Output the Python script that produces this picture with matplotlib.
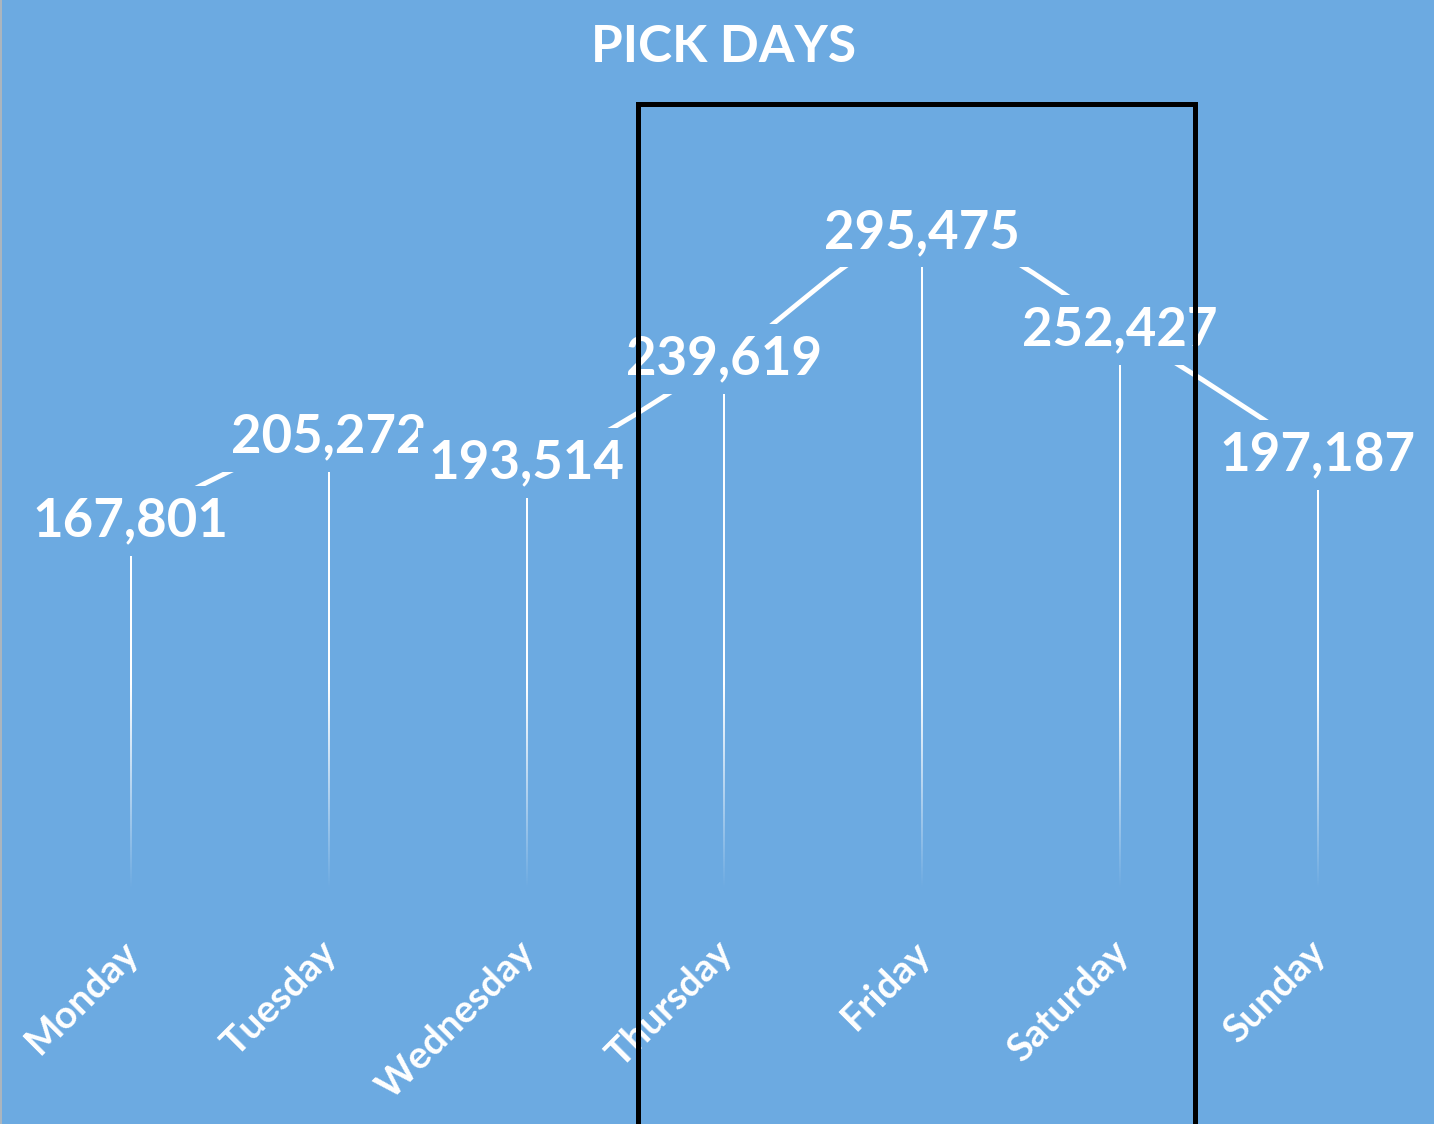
import matplotlib.pyplot as plt
import numpy as np
from matplotlib.path import Path
from matplotlib.patches import PathPatch, Rectangle
from matplotlib.lines import Line2D
from matplotlib.transforms import ScaledTranslation

days = ['Monday', 'Tuesday', 'Wednesday', 'Thursday', 'Friday', 'Saturday', 'Sunday']
picks = [167801, 205272, 193514, 239619, 295475, 252427, 197187]

bg = '#6caae1'
plt.rcParams['font.family'] = ['Lato', 'DejaVu Sans']

fig = plt.figure(figsize=(14.34, 11.24), dpi=100, facecolor=bg)
ax = fig.add_axes([0.0223, 0.1984, 0.9657, 0.7127])
ax.set_facecolor(bg)
for s in ax.spines.values():
    s.set_visible(False)

# smooth line (bezier through the points, like excel "smoothed line")
n = len(picks)
pts = [(i, v) for i, v in enumerate(picks)]
verts = [pts[0]]
codes = [Path.MOVETO]
for i in range(n - 1):
    p0 = pts[max(i - 1, 0)]
    p1 = pts[i]
    p2 = pts[i + 1]
    p3 = pts[min(i + 2, n - 1)]
    c1 = (p1[0] + (p2[0] - p0[0]) / 6, p1[1] + (p2[1] - p0[1]) / 6)
    c2 = (p2[0] - (p3[0] - p1[0]) / 6, p2[1] - (p3[1] - p1[1]) / 6)
    verts += [c1, c2, p2]
    codes += [Path.CURVE4] * 3
ax.add_patch(PathPatch(Path(verts, codes), fc='none', ec='white', lw=3.5, zorder=2))

# drop lines that fade out toward the bottom (thin gradient images)
for i, v in enumerate(picks):
    ys = np.linspace(0, v, 200)
    grad = np.ones((len(ys), 1, 4))
    grad[:, 0, 3] = np.clip((ys - 5000) / 90000, 0, 1)
    ax.imshow(grad, extent=(i - 0.005, i + 0.005, 0, v), origin='lower',
              aspect='auto', interpolation='bilinear', zorder=2)

for i, v in enumerate(picks):
    ax.text(i, v, f'{v:,}', ha='center', va='center', fontsize=38, color='white',
            fontweight='bold', zorder=3,
            bbox=dict(boxstyle='square,pad=0.2', fc=bg, ec='none'))

ax.set_xlim(-0.5, 6.5)
ax.set_ylim(0, 354000)
ax.set_yticks([])
ax.set_xticks(range(len(days)))
ax.set_xticklabels(days, rotation=45, ha='right', rotation_mode='anchor',
                   color='white', fontsize=28, fontweight='bold')
ax.tick_params(axis='x', length=0, pad=24)
shift = ScaledTranslation(-10 / 100, 0, fig.dpi_scale_trans)
for lab in ax.get_xticklabels():
    lab.set_transform(lab.get_transform() + shift)

fig.text(0.5045, 1 - 48 / 1124, 'PICK DAYS', ha='center', va='center',
         fontsize=37, color='white', fontweight='bold')

# highlight box around Thursday - Saturday
fig.add_artist(Rectangle((638 / 1434, -0.01), (1195 - 638) / 1434, (1124 - 104) / 1124 + 0.01,
                         transform=fig.transFigure, fill=False, ec='black', lw=3.6, zorder=5))

fig.add_artist(Line2D([0.0005, 0.0005], [0, 1], color='#b8b8b8', lw=1.2))

fig.savefig('out.png', dpi=100, facecolor=bg)
